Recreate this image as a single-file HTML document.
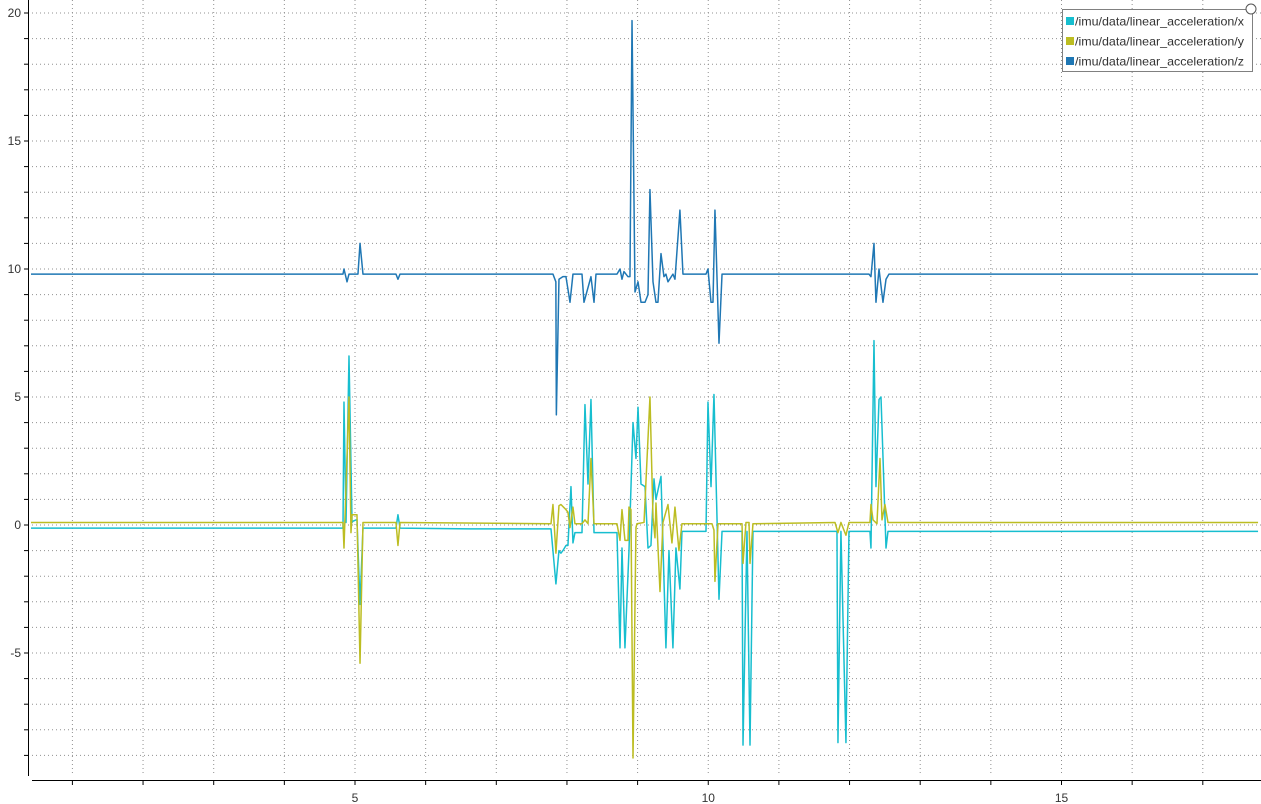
<!DOCTYPE html>
<html><head><meta charset="utf-8"><style>
html,body{margin:0;padding:0;background:#fff;}
svg{display:block;font-family:"Liberation Sans","DejaVu Sans",sans-serif;}
</style></head><body>
<svg id="chart" width="1261" height="804" viewBox="0 0 1261 804" xmlns="http://www.w3.org/2000/svg">
<g id="grid"></g>
<g id="axes"></g>
<g id="series"></g>
<g id="legend"></g>
</svg>
<script>
const xTicks = [1,2,3,4,5,6,7,8,9,10,11,12,13,14,15,16,17];
const xTickLabels = {5:"5",10:"10",15:"15"};
const yTicks = [-9,-8,-7,-6,-5,-4,-3,-2,-1,0,1,2,3,4,5,6,7,8,9,10,11,12,13,14,15,16,17,18,19,20];
const yTickLabels = {"-5":"-5",0:"0",5:"5",10:"10",15:"15",20:"20"};
const seriesNames = ["/imu/data/linear_acceleration/x","/imu/data/linear_acceleration/y","/imu/data/linear_acceleration/z"];

const xTimes = [0.414,4.830,4.844,4.873,4.915,4.958,4.972,5.014,5.028,5.071,5.113,5.580,5.608,5.637,6.628,7.774,7.844,7.887,7.915,7.943,7.986,8.014,8.057,8.085,8.113,8.213,8.255,8.298,8.340,8.383,8.708,8.751,8.779,8.821,8.878,8.935,8.977,9.006,9.048,9.105,9.147,9.189,9.232,9.260,9.331,9.401,9.444,9.500,9.543,9.599,9.628,9.968,9.996,10.039,10.081,10.152,10.195,10.478,10.492,10.548,10.591,10.633,11.822,11.836,11.878,11.949,11.992,12.289,12.303,12.346,12.374,12.417,12.445,12.516,12.544,17.782];
const xValues = [-0.12,-0.12,4.8,0.1,6.6,0.1,0.15,0.2,0.2,-3.1,-0.12,-0.12,0.4,-0.12,-0.15,-0.15,-2.3,-1.0,-1.1,-1.0,-0.8,-0.8,1.5,-0.7,-0.3,-0.3,4.7,1.6,4.9,-0.3,-0.3,-4.8,-0.9,-4.8,-1.0,4.0,2.6,4.6,1.6,1.5,-0.9,-0.8,1.8,1.0,1.9,-4.8,-1.0,-4.8,-0.9,-2.5,-0.25,-0.25,4.8,1.5,5.1,-2.9,-0.25,-0.25,-8.6,-0.25,-8.6,-0.25,-0.25,-8.5,-0.25,-8.5,-0.25,-0.25,-0.9,7.2,1.5,4.9,5.0,-0.9,-0.25,-0.25];

const yTimes = [0.414,4.830,4.844,4.915,4.943,4.958,5.028,5.071,5.113,5.580,5.608,5.637,7.774,7.802,7.844,7.887,7.915,7.986,8.014,8.043,8.085,8.113,8.213,8.255,8.298,8.340,8.383,8.708,8.751,8.779,8.821,8.864,8.878,8.906,8.935,8.977,8.991,9.091,9.175,9.218,9.246,9.260,9.317,9.359,9.430,9.486,9.529,9.585,9.628,10.053,10.081,10.095,10.138,10.478,10.492,10.534,10.577,10.591,10.633,11.794,11.836,11.878,11.949,11.992,12.289,12.303,12.332,12.388,12.431,12.459,12.501,12.544,17.782];
const yValues = [0.1,0.1,-0.9,5.0,-0.3,0.4,0.4,-5.4,0.1,0.1,-0.8,0.1,0.05,0.8,-1.1,0.75,0.8,0.6,0.5,-0.1,0.7,0.05,0.05,0.2,0.05,2.6,0.05,0.05,-0.6,0.6,-0.6,-0.6,0.7,0.6,-9.1,-0.1,0.05,0.1,5.0,0.3,-0.5,0.86,-2.6,0.1,0.8,-0.7,0.7,-1.0,0.05,0.05,-0.2,-2.2,0.05,0.05,-1.5,0.1,0.1,-1.5,0.05,0.1,-0.3,0.1,-0.4,0.1,0.1,0.8,0.2,0.05,2.6,0.2,0.8,0.1,0.1];

const zTimes = [0.414,4.830,4.844,4.887,4.915,5.042,5.071,5.113,5.580,5.608,5.637,7.802,7.843,7.850,7.887,7.943,7.986,8.043,8.085,8.213,8.241,8.340,8.383,8.411,8.708,8.751,8.779,8.807,8.864,8.892,8.921,8.963,9.006,9.048,9.105,9.147,9.175,9.218,9.260,9.288,9.331,9.373,9.401,9.430,9.500,9.529,9.599,9.642,9.968,9.996,10.039,10.067,10.095,10.152,10.195,12.275,12.303,12.346,12.374,12.417,12.473,12.516,12.558,17.782];
const zValues = [9.8,9.8,10.0,9.5,9.8,9.8,11.0,9.8,9.8,9.6,9.8,9.8,9.5,4.3,9.6,9.7,9.7,8.7,9.8,9.8,8.7,9.7,8.7,9.8,9.8,10.0,9.6,9.9,9.7,9.7,19.7,9.1,9.5,8.7,8.7,9.0,13.1,9.5,8.7,8.7,10.6,9.7,9.8,9.5,9.8,9.6,12.3,9.8,9.8,10.0,8.7,8.7,12.3,7.1,9.8,9.8,9.7,11.0,8.7,10.0,8.7,9.6,9.8,9.8];

const colors = ["#17becf","#bcbd22","#1f77b4"];
const X0 = 1.75, XK = 70.65, Y0 = 525, YK = 25.6;
function xs(t){ return X0 + t*XK; }
function ys(v){ return Y0 - v*YK; }
const NS = "http://www.w3.org/2000/svg";
function mk(tag, attrs, parent){ const e=document.createElementNS(NS,tag); for(const k in attrs) e.setAttribute(k,attrs[k]); parent.appendChild(e); return e; }

const grid = document.getElementById('grid');
xTicks.forEach(t=>{
  const l = mk('line',{x1:xs(t),x2:xs(t),y1:0,y2:776,stroke:'#909090','stroke-width':1,'stroke-dasharray':'1,3'},grid);
  
  
});
yTicks.forEach(v=>{
  const l = mk('line',{x1:28,x2:1261,y1:ys(v),y2:ys(v),stroke:'#909090','stroke-width':1,'stroke-dasharray':'1,3'},grid);
  
  
});

const axes = document.getElementById('axes');
const ya = mk('line',{x1:28.5,x2:28.5,y1:0,y2:776,stroke:'#000','stroke-width':1},axes);


const xa = mk('line',{x1:32,x2:1261,y1:780.5,y2:780.5,stroke:'#000','stroke-width':1},axes);


xTicks.forEach(t=>{
  const tk = mk('line',{x1:xs(t),x2:xs(t),y1:780,y2:785,stroke:'#000','stroke-width':1},axes);
  
  
  if(xTickLabels[t]){
    const tx = mk('text',{x:xs(t),y:802,'text-anchor':'middle','font-size':12,fill:'#333'},axes);
    tx.textContent = xTickLabels[t];
    
    
  }
});
yTicks.forEach(v=>{
  const tk = mk('line',{x1:24,x2:28,y1:ys(v),y2:ys(v),stroke:'#000','stroke-width':1},axes);
  
  
  if(yTickLabels[v]!==undefined){
    const tx = mk('text',{x:21,y:ys(v)+4,'text-anchor':'end','font-size':12,fill:'#333'},axes);
    tx.textContent = yTickLabels[v];
    
    
  }
});

const ser = document.getElementById('series');
function drawLine(ts, vs, color, name){
  const d = ts.map((t,i)=>(i?'L':'M')+xs(t).toFixed(2)+','+ys(vs[i]).toFixed(2)).join(' ');
  const p = mk('path',{d:d,fill:'none',stroke:color,'stroke-width':1.5,'stroke-linejoin':'round'},ser);
  
  
}
drawLine(xTimes,xValues,colors[0],'series-x-line');
drawLine(yTimes,yValues,colors[1],'series-y-line');
drawLine(zTimes,zValues,colors[2],'series-z-line');

const lg = document.getElementById('legend');
const box = mk('rect',{x:1062.5,y:9.5,width:190,height:62,fill:'#fff',stroke:'#808080','stroke-width':1},lg);


seriesNames.forEach((n,i)=>{
  const sw = mk('rect',{x:1066,y:17+i*20,width:8,height:8,fill:colors[i]},lg);
  
  
  const tx = mk('text',{x:1075,y:25.5+i*20,'font-size':12,fill:'#333',textLength:169,lengthAdjust:'spacingAndGlyphs'},lg);
  tx.textContent = n;
  
  
});
const c = mk('circle',{cx:1251,cy:9,r:5,fill:'#fff',stroke:'#555','stroke-width':1},lg);


</script>
</body></html>
